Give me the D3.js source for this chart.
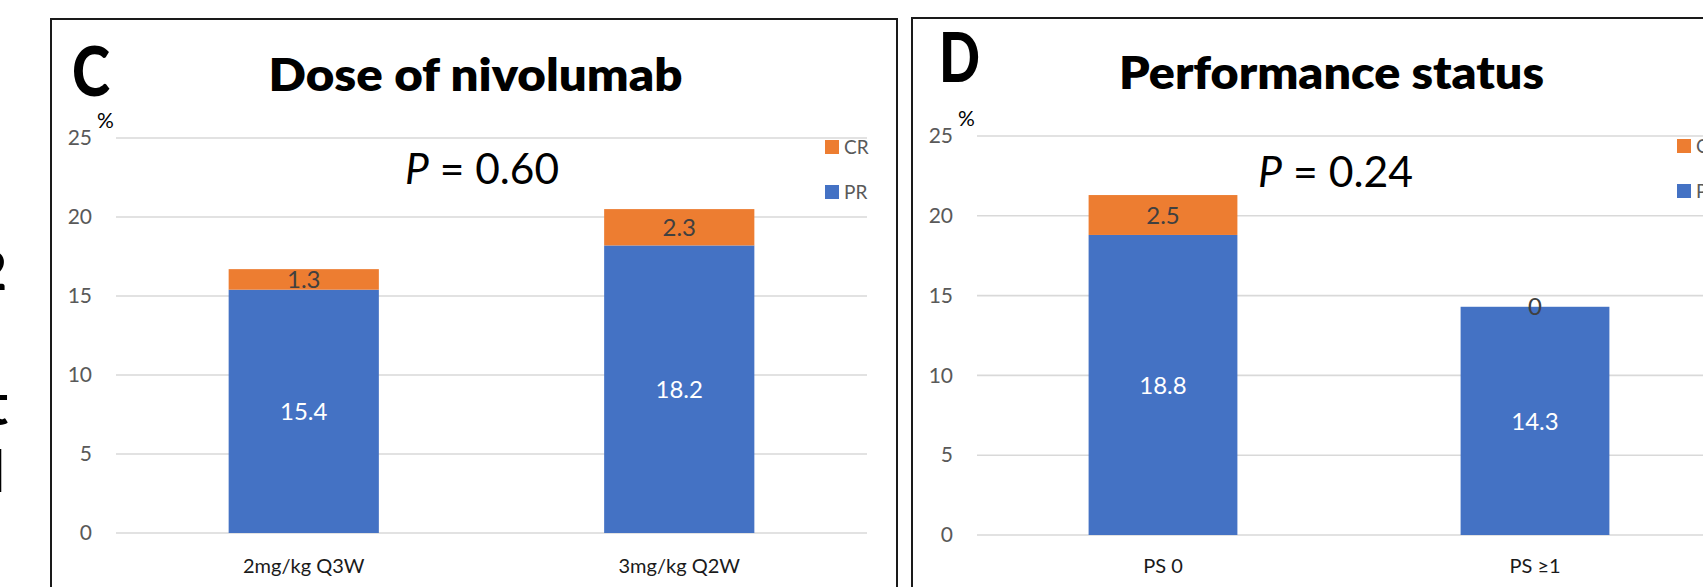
<!DOCTYPE html>
<html>
<head>
<meta charset="utf-8">
<script src="https://cdn.jsdelivr.net/npm/d3@7/dist/d3.min.js"></script>
<style>
  html, body { margin: 0; padding: 0; background: #fff; }
  svg { display: block; }
  text { font-family: Lato, "Open Sans", sans-serif; }
</style>
</head>
<body>
<svg id="chart" width="1703" height="587"></svg>
<script>
// ---------- data ----------
const seriesNames = ["CR", "PR"];
const yTicks = [0, 5, 10, 15, 20, 25];

const doseCategories = ["2mg/kg Q3W", "3mg/kg Q2W"];
const dosePR = [15.4, 18.2];
const doseCR = [1.3, 2.3];
const doseTitle = "Dose of nivolumab";
const dosePanelLetter = "C";
const doseP = "0.60";

const psCategories = ["PS 0", "PS \u22651"];
const psPR = [18.8, 14.3];
const psCR = [2.5, 0];
const psTitle = "Performance status";
const psPanelLetter = "D";
const psP = "0.24";

// ---------- styles ----------
const colors = { PR: "#4472C4", CR: "#ED7D31" };
const svg = d3.select("#chart");

// clipped fragments of the neighbouring panel at the far left
const fragments = [
  { t: "2", x: 7, y: 290, size: 54 },
  { t: "t", x: 8, y: 425, size: 58 },
  { t: "l", x: 5, y: 492, size: 58 }
];
svg.selectAll("text.frag").data(fragments).join("text")
  .attr("class", "frag")
  .attr("x", d => d.x).attr("y", d => d.y)
  .attr("text-anchor", "end")
  .attr("font-size", d => d.size).attr("font-weight", 700)
  .attr("fill", "#000")
  .text(d => d.t);

function drawPanel(cfg) {
  const g = svg.append("g");
  // frame
  g.append("rect")
    .attr("x", cfg.frame.x).attr("y", cfg.frame.y)
    .attr("width", cfg.frame.w).attr("height", cfg.frame.h)
    .attr("fill", "none").attr("stroke", "#1a1a1a").attr("stroke-width", 2);

  const x = d3.scaleBand().domain(cfg.categories)
    .range([cfg.plot.x0, cfg.plot.x1]).paddingInner(0.6).paddingOuter(0.3);
  const y = d3.scaleLinear().domain([0, 25]).range([cfg.plot.yBottom, cfg.plot.yTop]);

  // gridlines
  g.selectAll("line.grid").data(yTicks).join("line")
    .attr("class", "grid")
    .attr("x1", cfg.plot.x0).attr("x2", cfg.plot.x1)
    .attr("y1", d => y(d)).attr("y2", d => y(d))
    .attr("stroke", "#d9d9d9").attr("stroke-width", 1.6);

  // y axis labels via d3 axis
  const yAxis = d3.axisLeft(y).tickValues(yTicks).tickSize(0).tickPadding(0);
  const ya = g.append("g").attr("transform", `translate(${cfg.plot.x0 - 24},0)`).call(yAxis);
  ya.select(".domain").remove();
  ya.selectAll("text").attr("font-size", 21).attr("fill", "#595959")
    .attr("font-family", "Lato, 'Open Sans', sans-serif");

  // "%" unit
  g.append("text").attr("x", cfg.plot.x0 - 19).attr("y", y(25) - 10)
    .attr("font-size", 21).attr("fill", "#000").text("%");

  // stacked data
  const rows = cfg.categories.map((c, i) => ({ cat: c, PR: cfg.pr[i], CR: cfg.cr[i] }));
  const stack = d3.stack().keys(["PR", "CR"])(rows);

  stack.forEach(layer => {
    g.selectAll(null).data(layer).join("rect")
      .attr("x", d => x(d.data.cat)).attr("width", x.bandwidth())
      .attr("y", d => y(d[1])).attr("height", d => y(d[0]) - y(d[1]))
      .attr("fill", colors[layer.key]);
  });
  stack.forEach(layer => {
    g.selectAll(null).data(layer).join("text")
      .attr("x", d => x(d.data.cat) + x.bandwidth() / 2)
      .attr("y", d => y((d[0] + d[1]) / 2))
      .attr("dy", "0.36em")
      .attr("text-anchor", "middle")
      .attr("font-size", 24)
      .attr("fill", layer.key === "PR" ? "#ffffff" : "#404040")
      .text(d => d.data[layer.key]);
  });

  // x labels
  const xAxis = d3.axisBottom(x).tickSize(0).tickPadding(0);
  const xa = g.append("g").attr("transform", `translate(0,${cfg.xLabelY})`).call(xAxis);
  xa.select(".domain").remove();
  xa.selectAll("text").attr("font-size", 20).attr("fill", "#1a1a1a").attr("dy", 0)
    .attr("font-family", "Lato, 'Open Sans', sans-serif");

  // legend
  seriesNames.forEach((s, i) => {
    g.append("rect").attr("x", cfg.legend.x).attr("y", cfg.legend.y + i * 45)
      .attr("width", 14).attr("height", 14).attr("fill", colors[s]);
    g.append("text").attr("x", cfg.legend.x + 19).attr("y", cfg.legend.y + i * 45 + 14)
      .attr("font-size", 19).attr("fill", "#595959").text(s);
  });

  // panel letter
  g.append("text").attr("x", cfg.letter.x).attr("y", cfg.letter.y)
    .attr("font-size", 68).attr("font-weight", 900).attr("fill", "#000")
    .attr("textLength", cfg.letter.w).attr("lengthAdjust", "spacingAndGlyphs")
    .text(cfg.letterText);

  // title
  g.append("text").attr("x", cfg.title.cx - cfg.title.w / 2).attr("y", cfg.title.y)
    .attr("font-size", 46).attr("font-weight", 800).attr("fill", "#000")
    .attr("textLength", cfg.title.w).attr("lengthAdjust", "spacingAndGlyphs")
    .text(cfg.titleText);

  // P value
  const pt = g.append("text").attr("x", cfg.p.cx - cfg.p.w / 2).attr("y", cfg.p.y)
    .attr("font-size", 42).attr("fill", "#000")
    .attr("textLength", cfg.p.w).attr("lengthAdjust", "spacingAndGlyphs");
  pt.append("tspan").attr("font-style", "italic").text("P");
  pt.append("tspan").text(" = " + cfg.pText);
}

drawPanel({
  categories: doseCategories, pr: dosePR, cr: doseCR,
  titleText: doseTitle, letterText: dosePanelLetter, pText: doseP,
  frame: { x: 51, y: 19, w: 846, h: 620 },
  plot: { x0: 116, x1: 867, yBottom: 533, yTop: 138 },
  xLabelY: 573,
  legend: { x: 825, y: 140 },
  letter: { x: 72, y: 96, w: 38 },
  title: { cx: 475.5, y: 91, w: 414 },
  p: { cx: 482, y: 184, w: 154 }
});

drawPanel({
  categories: psCategories, pr: psPR, cr: psCR,
  titleText: psTitle, letterText: psPanelLetter, pText: psP,
  frame: { x: 912, y: 18, w: 900, h: 620 },
  plot: { x0: 977, x1: 1721, yBottom: 535, yTop: 136 },
  xLabelY: 573,
  legend: { x: 1677, y: 139 },
  letter: { x: 939, y: 82, w: 41 },
  title: { cx: 1331.5, y: 89, w: 425 },
  p: { cx: 1335.5, y: 187, w: 155 }
});
</script>
</body>
</html>
